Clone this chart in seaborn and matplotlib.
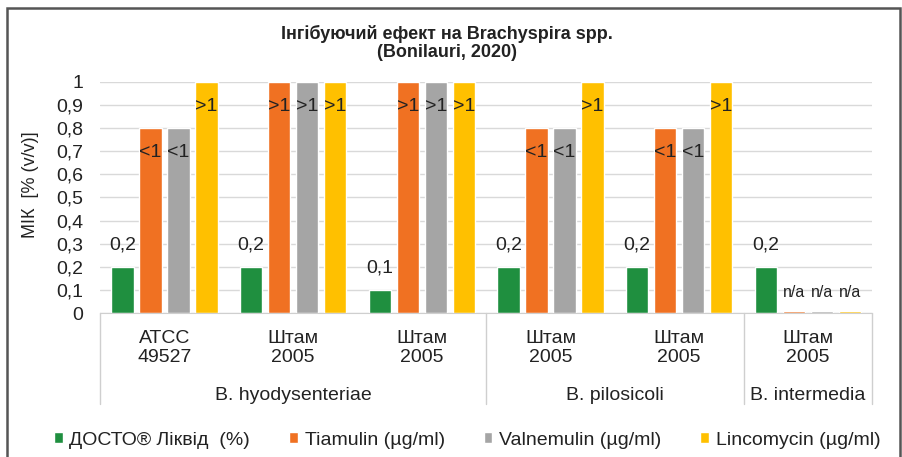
import numpy as np
import pandas as pd
import matplotlib
matplotlib.use("Agg")
import matplotlib.pyplot as plt
import matplotlib.transforms as mtransforms
from matplotlib.patches import Rectangle, Patch
import seaborn as sns

# values
strain_labels = ['ATCC\n49527', 'Штам\n2005', 'Штам\n2005', 'Штам\n2005', 'Штам\n2005', 'Штам\n2005']
species = ['B. hyodysenteriae', 'B. pilosicoli', 'B. intermedia']
species_span = [(0, 2), (3, 4), (5, 5)]
drugs = ['ДОСТО® Ліквід  (%)', 'Tiamulin (µg/ml)', 'Valnemulin (µg/ml)', 'Lincomycin (µg/ml)']
dosto = [0.2, 0.2, 0.1, 0.2, 0.2, 0.2]
tiamulin = [0.8, 1.0, 1.0, 0.8, 0.8, 0.01]
valnemulin = [0.8, 1.0, 1.0, 0.8, 0.8, 0.01]
lincomycin = [1.0, 1.0, 1.0, 1.0, 1.0, 0.01]
dosto_lbl = ['0,2', '0,2', '0,1', '0,2', '0,2', '0,2']
tiamulin_lbl = ['<1', '>1', '>1', '<1', '<1', 'n/a']
valnemulin_lbl = ['<1', '>1', '>1', '<1', '<1', 'n/a']
lincomycin_lbl = ['>1', '>1', '>1', '>1', '>1', 'n/a']
colors = ['#1f8f3f', '#f07122', '#a5a5a5', '#ffc000']

series = [dosto, tiamulin, valnemulin, lincomycin]
labels = [dosto_lbl, tiamulin_lbl, valnemulin_lbl, lincomycin_lbl]
df = pd.DataFrame({
    'strain': np.tile(np.arange(len(strain_labels)), len(drugs)),
    'drug': np.repeat(drugs, len(strain_labels)),
    'value': np.concatenate(series),
})

sns.set_style('white')
plt.rcParams['font.family'] = ['Liberation Sans', 'DejaVu Sans']
txt_col = '#222222'

fig = plt.figure(figsize=(9.02, 4.57), dpi=100)
fig.patches.append(Rectangle((0.008, -0.01), 0.99, 0.992, transform=fig.transFigure,
                             fill=False, edgecolor='#555555', linewidth=1.8))
ax = fig.add_axes([0.111, 0.315, 0.856, 0.506])

sns.barplot(data=df, x='strain', y='value', hue='drug', hue_order=drugs,
            palette=colors, width=0.87, gap=0.2, legend=False, ax=ax, saturation=1)

ax.set_ylim(0, 1)
ax.set_xlim(-0.5, len(strain_labels) - 0.5)
ax.set_yticks(np.arange(0, 1.01, 0.1))
ax.set_yticklabels(['0'] + [f'0,{i}' for i in range(1, 10)] + ['1'], fontsize=14, color=txt_col)
ax.set_xticks(range(len(strain_labels)))
ax.set_xticklabels(strain_labels, fontsize=14, color=txt_col, linespacing=1.2)
ax.tick_params(axis='y', length=0, pad=12)
ax.tick_params(axis='x', length=0, pad=12)
ax.yaxis.grid(True, color='#d9d9d9', linewidth=1)
ax.set_axisbelow(True)
for s in ['left', 'right', 'top']:
    ax.spines[s].set_visible(False)
ax.spines['bottom'].set_color('#cfcfcf')
ax.set_xlabel('')
ax.set_ylabel('')

# bar labels
for cont, lbls in zip(ax.containers, labels):
    for bar, txt in zip(cont, lbls):
        cx = bar.get_x() + bar.get_width() / 2
        h = bar.get_height()
        if txt == 'n/a':
            y, fs = 0.09, 11.5
        elif txt.startswith('0'):
            y, fs = h + 0.095, 14
        else:
            y, fs = h - 0.105, 14
        ax.text(cx, y, txt, ha='center', va='center', fontsize=fs, color=txt_col)

# multi-level category axis
trans = mtransforms.blended_transform_factory(ax.transData, ax.transAxes)
for xb in [-0.5, 2.5, 4.5, 5.5]:
    ax.plot([xb, xb], [0, -0.395], transform=trans, color='#cfcfcf', lw=1, clip_on=False)
for name, (a, b) in zip(species, species_span):
    ax.text((a + b) / 2, -0.355, name, transform=trans, ha='center', va='center',
            fontsize=14, color=txt_col)

fig.text(0.034, 0.595, 'МІК  [% (v/v)]', rotation=90, ha='center', va='center',
         fontsize=13, color=txt_col)
fig.text(0.496, 0.906, 'Інгібуючий ефект на Brachyspira spp.\n(Bonilauri, 2020)',
         ha='center', va='center', fontsize=13, fontweight='bold', color=txt_col,
         linespacing=1.1)

handles = [Patch(facecolor=c) for c in colors]
fig.legend(handles, drugs, loc='center', bbox_to_anchor=(0.518, 0.037), ncol=4,
           frameon=False, fontsize=14, handlelength=0.45, handleheight=0.45,
           handletextpad=0.35, columnspacing=2.0, labelcolor=txt_col)

fig.savefig('out.png', dpi=100, facecolor='white')
